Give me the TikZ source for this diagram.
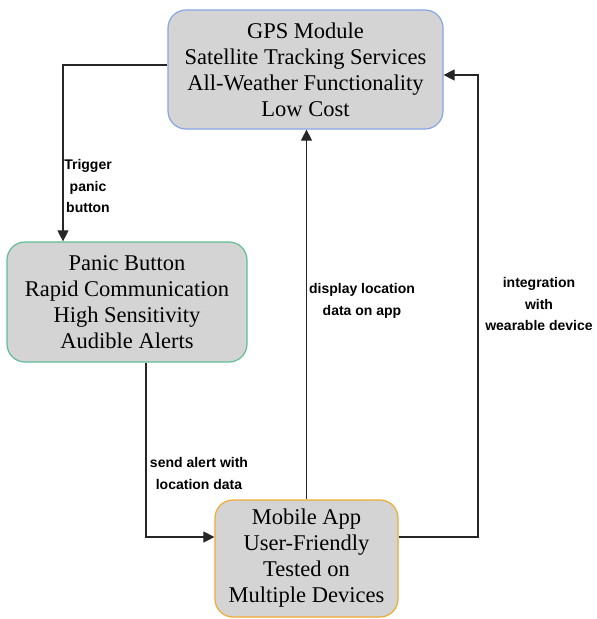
\documentclass[tikz,border=0pt]{standalone}
\usepackage{fontspec}
\setmainfont{Liberation Serif}
\newfontfamily\labelfont{Liberation Sans}
\usetikzlibrary{arrows.meta}

\definecolor{boxfill}{RGB}{212,212,212}
\definecolor{gpsblue}{RGB}{135,165,230}
\definecolor{panicgreen}{RGB}{95,190,150}
\definecolor{apporange}{RGB}{240,170,50}

\tikzset{
    block/.style={rounded corners=18pt, fill=boxfill, line width=1.2pt, align=center,
                  inner sep=0pt, font=\fontsize{22.5}{26}\selectfont},
    flow/.style={line width=1.1pt, black!85, -{Triangle[length=11pt,width=11pt]}},
    flowlabel/.style={align=center, font=\labelfont\bfseries\fontsize{14}{21.5}\selectfont}
}

\begin{document}
\begin{tikzpicture}[x=1pt, y=-1pt]
                    \useasboundingbox (0,0) rectangle (597,619);

                    \node[block, draw=gpsblue, minimum width=275pt, minimum height=119pt] (gps) at (305.5, 69.5)
                        {GPS Module\\Satellite Tracking Services\\All-Weather Functionality\\Low Cost};
                    \node[block, draw=panicgreen, minimum width=240pt, minimum height=120pt] (panic) at (127, 302)
                        {Panic Button\\Rapid Communication\\High Sensitivity\\Audible Alerts};
                    \node[block, draw=apporange, minimum width=183pt, minimum height=117pt] (app) at (306.5, 558.5)
                        {Mobile App\\User-Friendly\\Tested on\\Multiple Devices};

                    \coordinate (W0) at (478, 75);

                    \draw[flow] ([yshift=4.5pt]gps.west) -| ([xshift=-64pt]panic.north);
                    \draw[flow] ([xshift=19pt]panic.south) |- ([yshift=21.5pt]app.west);
                    \draw[flow] (app.north) -- (app.north |- gps.south);
                    \draw[flow] ([yshift=21.5pt]app.east) -| (W0) -- (gps.east |- W0);

                    \node[flowlabel] (trigger) at (88, 186) {Trigger\\panic\\button};
                    \node[flowlabel] (alert) at (199, 473.5) {send alert with\\location data};
                    \node[flowlabel] (display) at (362, 301) {display location\\data on app};
                    \node[flowlabel] (wear) at (539, 304) {integration\\with\\wearable device};

                \end{tikzpicture}
\end{document}
